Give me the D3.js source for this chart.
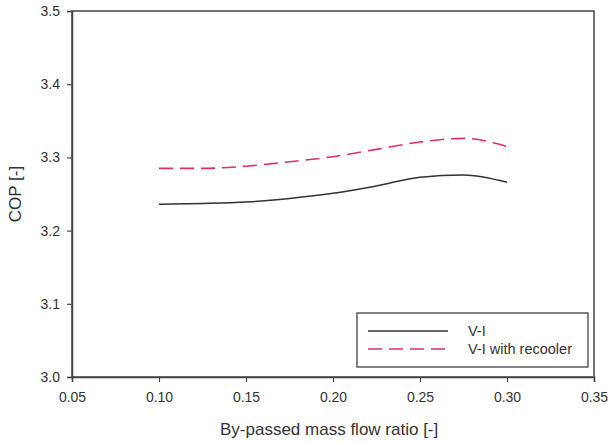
<!DOCTYPE html>
<html><head><meta charset="utf-8">
<script src="https://cdn.jsdelivr.net/npm/d3@7"></script>
<style>body{margin:0;background:#fff}svg{display:block}text{font-family:"Liberation Sans",Arial,sans-serif;fill:#333}</style>
</head><body>
<svg id="c" width="609" height="443"></svg>
<script>
const xValues = [0.10, 0.125, 0.15, 0.175, 0.20, 0.225, 0.25, 0.275, 0.30];
const vi = [3.236, 3.237, 3.239, 3.244, 3.251, 3.261, 3.273, 3.276, 3.266];
const viRecooler = [3.285, 3.285, 3.288, 3.294, 3.301, 3.311, 3.321, 3.326, 3.315];
const xTicks = [0.05, 0.10, 0.15, 0.20, 0.25, 0.30, 0.35];
const yTicks = [3.0, 3.1, 3.2, 3.3, 3.4, 3.5];
const seriesNames = ["V-I", "V-I with recooler"];

const svg = d3.select("#c");
const m = {l:72, r:594, t:11, b:377};
const x = d3.scaleLinear().domain([0.05, 0.35]).range([m.l, m.r]);
const y = d3.scaleLinear().domain([3.0, 3.5]).range([m.b, m.t]);

// frame
svg.append("rect").attr("x", m.l).attr("y", m.t).attr("width", m.r-m.l).attr("height", m.b-m.t)
  .attr("fill","none").attr("stroke","#444").attr("stroke-width",1.5);

const xa = svg.append("g").attr("transform",`translate(0,${m.b})`)
  .call(d3.axisBottom(x).tickValues(xTicks).tickFormat(d3.format(".2f")).tickSize(5).tickPadding(10));
const ya = svg.append("g").attr("transform",`translate(${m.l},0)`)
  .call(d3.axisLeft(y).tickValues(yTicks).tickFormat(d3.format(".1f")).tickSize(5).tickPadding(7));
[xa, ya].forEach(a => {
  a.select(".domain").attr("stroke","#444").attr("stroke-width",1.5);
  a.selectAll(".tick line").attr("stroke","#444").attr("stroke-width",1.2);
  a.selectAll("text").style("font-size","14px").style("font-family","Liberation Sans, Arial, sans-serif").attr("fill","#333");
});

const line = d3.line().x((d,i)=>x(xValues[i])).y(d=>y(d)).curve(d3.curveMonotoneX);
svg.append("path").datum(vi).attr("d", line).attr("fill","none").attr("stroke","#333").attr("stroke-width",1.5);
svg.append("path").datum(viRecooler).attr("d", line).attr("fill","none").attr("stroke","#e0305e")
  .attr("stroke-width",1.6).attr("stroke-dasharray","14,7");

// legend
const lg = svg.append("g");
lg.append("rect").attr("x",357).attr("y",313).attr("width",231).attr("height",54)
  .attr("fill","#fff").attr("stroke","#333").attr("stroke-width",1.2);
lg.append("line").attr("x1",368).attr("x2",448).attr("y1",331).attr("y2",331).attr("stroke","#333").attr("stroke-width",1.5);
lg.append("line").attr("x1",368).attr("x2",448).attr("y1",349).attr("y2",349).attr("stroke","#e0305e").attr("stroke-width",1.6).attr("stroke-dasharray","14,7");
lg.append("text").attr("x",468).attr("y",336).style("font-size","14.5px").text(seriesNames[0]);
lg.append("text").attr("x",468).attr("y",354).style("font-size","14.5px").text(seriesNames[1]);

// axis titles
svg.append("text").attr("x",220).attr("y",435).attr("text-anchor","start").style("font-size","17px").text("By-passed mass flow ratio [-]");
svg.append("text").attr("transform","translate(21,194) rotate(-90)").attr("text-anchor","middle").style("font-size","17px").text("COP [-]");
</script>
</body></html>
